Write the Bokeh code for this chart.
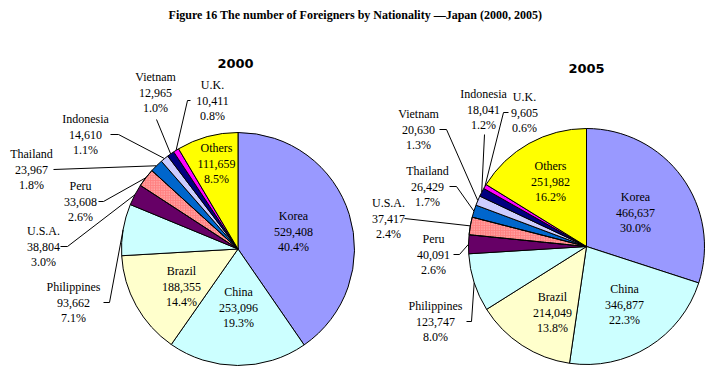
import math
from bokeh.plotting import figure
from bokeh.models import Range1d, ColumnDataSource
from bokeh.core.properties import value
from bokeh.embed import file_html
from bokeh.resources import INLINE

# ---------------- data ----------------
title = "Figure 16 The number of Foreigners by Nationality \u2014Japan (2000, 2005)"
years = ["2000", "2005"]

countries_2000 = ["Korea", "China", "Brazil", "Philippines", "U.S.A.", "Peru",
                  "Thailand", "Indonesia", "Vietnam", "U.K.", "Others"]
values_2000 = [529408, 253096, 188355, 93662, 38804, 33608,
               23967, 14610, 12965, 10411, 111659]

countries_2005 = ["Korea", "China", "Brazil", "Philippines", "Peru", "U.S.A.",
                  "Thailand", "Vietnam", "Indonesia", "U.K.", "Others"]
values_2005 = [466637, 346877, 214049, 123747, 40091, 37417,
               26429, 20630, 18041, 9605, 251982]

slice_colors = ["#9999FF", "#CCFFFF", "#FFFFCC", "#CCFFFF", "#660066", "#FF8080",
                "#0066CC", "#CCCCFF", "#000080", "#FF00FF", "#FFFF00"]

# ---------------- layout (reference pixel coordinates) ----------------
H = 381
def Y(y):
    return H - y

pies = [
    dict(year="2000", names=countries_2000, vals=values_2000, cx=237.5, cy=248.5, r=116.5,
         title_pos=(235, 63),
         labels={
             "Korea": ((293, 231), None),
             "China": ((238, 307), None),
             "Brazil": ((181, 286), None),
             "Philippines": ((73, 302), [(103, 302), (109, 302)]),
             "U.S.A.": ((43, 246), [(60, 246), (67, 246)]),
             "Peru": ((80, 201), [(98, 201), (103, 201)]),
             "Thailand": ((31, 169), [(53, 169)]),
             "Indonesia": ((85, 134), [(110, 134), (118, 134)]),
             "Vietnam": ((155, 92), [(156, 119)]),
             "U.K.": ((212, 100), [(190, 100), (187, 100)]),
             "Others": ((216, 163), None),
         }),
    dict(year="2005", names=countries_2005, vals=values_2005, cx=586, cy=246, r=118,
         title_pos=(586, 68),
         labels={
             "Korea": ((635, 212), None),
             "China": ((624, 304), None),
             "Brazil": ((552, 312), None),
             "Philippines": ((435, 321), [(466, 321), (471, 321)]),
             "Peru": ((433, 254), [(453, 254), (459, 254)]),
             "U.S.A.": ((388, 218), [(404, 218)]),
             "Thailand": ((427, 186), [(449, 186), (456, 186)]),
             "Vietnam": ((418, 129), [(439, 129), (446, 129)]),
             "Indonesia": ((483, 109), [(484, 134)]),
             "U.K.": ((524, 112), [(508, 112), (503, 112)]),
             "Others": ((550, 181), None),
         }),
]

LINE = 15.7
FONT = value("Liberation Serif")

p = figure(width=708, height=373, x_range=Range1d(0, 708), y_range=Range1d(8, 381),
           output_backend="svg", toolbar_location=None, min_border=0)
p.axis.visible = False
p.grid.visible = False
p.outline_line_color = None
p.background_fill_color = "white"
p.border_fill_color = "white"

# title
p.text(x=[355], y=[Y(14)], text=[title], text_font=FONT, text_font_style="bold",
       text_font_size="12px", text_align="center", text_baseline="middle", text_color="black")

for pie in pies:
    vals = pie["vals"]
    total = float(sum(vals))
    cx, cy, r = pie["cx"], pie["cy"], pie["r"]
    starts, ends, mids = [], [], []
    cum = 0.0
    for v in vals:
        f0 = cum / total
        cum += v
        f1 = cum / total
        starts.append(math.pi / 2 - f0 * 2 * math.pi)
        ends.append(math.pi / 2 - f1 * 2 * math.pi)
        mids.append((f0 + f1) / 2 * 2 * math.pi)  # clockwise from top
    src = ColumnDataSource(dict(x=[cx] * len(vals), y=[Y(cy)] * len(vals),
                                start=starts, end=ends, color=slice_colors))
    p.wedge(x="x", y="y", radius=r, start_angle="start", end_angle="end",
            direction="clock", fill_color="color", line_color="black", line_width=1,
            source=src)
    # dithered salmon slice
    i5 = 5
    p.wedge(x=[cx], y=[Y(cy)], radius=r, start_angle=[starts[i5]], end_angle=[ends[i5]],
            direction="clock", fill_alpha=0, line_color="black", line_width=1,
            hatch_pattern="dot", hatch_color="white", hatch_scale=2.5, hatch_weight=1,
            hatch_alpha=0.6)

    # year title
    tx, ty = pie["title_pos"]
    p.text(x=[tx], y=[Y(ty)], text=[pie["year"]], text_font=value("DejaVu Sans"),
           text_font_style="bold", text_font_size="13px", text_align="center",
           text_baseline="middle", text_color="black")

    xs, ys = [], []
    tx_l, ty_l, tt = [], [], []
    for name, v, th in zip(pie["names"], vals, mids):
        (lx, ly), leader = pie["labels"][name]
        pct = "%.1f%%" % (v / total * 100)
        for k, s in enumerate([name, "{:,}".format(v), pct]):
            tx_l.append(lx)
            ty_l.append(Y(ly + (k - 1) * LINE))
            tt.append(s)
        if leader:
            ex = cx + r * math.sin(th)
            ey = cy - r * math.cos(th)
            pts = leader + [(ex, ey)]
            xs.append([q[0] for q in pts])
            ys.append([Y(q[1]) for q in pts])
    p.multi_line(xs=xs, ys=ys, line_color="black", line_width=1)
    p.text(x=tx_l, y=ty_l, text=tt, text_font=FONT, text_font_size="12px",
           text_align="center", text_baseline="middle", text_color="black")

open("out.html", "w").write(file_html(p, INLINE))
